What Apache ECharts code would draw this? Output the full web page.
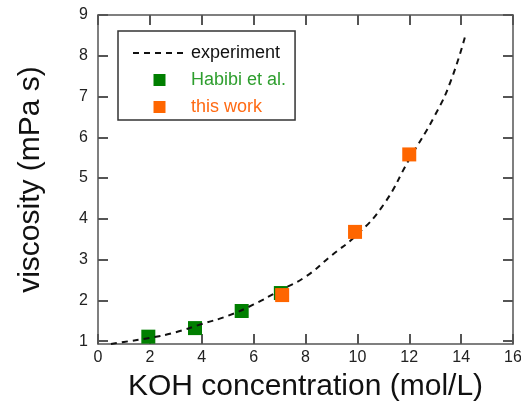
<!DOCTYPE html>
<html>
<head>
<meta charset="utf-8">
<script src="https://cdn.jsdelivr.net/npm/echarts@6/dist/echarts.min.js"></script>
<style>
  html, body { margin: 0; padding: 0; background: #fff; }
  #box { width: 521px; height: 401px; }
</style>
</head>
<body>
<div id="box"></div>
<script>
// experiment curve
var expX = [0.5, 1, 2, 3, 4, 5, 6, 7, 8, 9, 10, 11, 12, 13, 13.6, 14.15];
var expY = [0.93, 0.98, 1.08, 1.22, 1.42, 1.62, 1.9, 2.24, 2.58, 3.1, 3.62, 4.34, 5.46, 6.55, 7.38, 8.47];
// Habibi et al.
var habX = [1.94, 3.74, 5.54, 7.05];
var habY = [1.11, 1.32, 1.74, 2.18];
// this work
var ownX = [7.1, 9.91, 12.0];
var ownY = [2.13, 3.68, 5.58];
var yTicks = [1, 2, 3, 4, 5, 6, 7, 8, 9];

function pairs(xs, ys) {
    return xs.map(function (x, i) { return [x, ys[i]]; });
}

var dom = document.getElementById("box");
var myChart = echarts.init(dom, null, { renderer: 'canvas' });

var axisColor = '#555';
var font = 'Liberation Sans, Arial, Helvetica, sans-serif';
var square = 'path://M0,0L10,0L10,10L0,10Z';
var tick = { show: true, inside: true, length: 10, lineStyle: { color: axisColor, width: 2 } };
var yTick = { show: true, inside: true, length: 10, customValues: yTicks, lineStyle: { color: axisColor, width: 2 } };

option = {
    backgroundColor: '#fff',
    animation: false,
    textStyle: { fontFamily: font },
    grid: {
        left: 98,
        right: 8,
        top: 15,
        bottom: 57,
        containLabel: false,
        outerBoundsMode: 'none'
    },
    legend: {
        orient: 'vertical',
        left: 118,
        top: 31,
        padding: [13, 9, 4, 14],
        borderColor: '#333',
        borderWidth: 1.5,
        itemWidth: 53,
        itemHeight: 12,
        itemGap: 9,
        textStyle: { fontSize: 18, color: '#111', fontFamily: font },
        data: [
            { name: 'experiment', itemStyle: { opacity: 0 } },
            { name: 'Habibi et al.', icon: square, textStyle: { color: '#2e9e2e' } },
            { name: 'this work', icon: square, textStyle: { color: '#ff6a13' } }
        ]
    },
    xAxis: [{
        type: 'value',
        min: 0,
        max: 16,
        interval: 2,
        name: 'KOH concentration (mol/L)',
        nameLocation: 'middle',
        nameGap: 28,
        nameTextStyle: { fontSize: 30, color: '#111', fontFamily: font },
        axisLine: { show: true, onZero: false, lineStyle: { color: axisColor, width: 1.5 } },
        axisTick: tick,
        axisLabel: { fontSize: 16, color: '#222', margin: 6 },
        splitLine: { show: false }
    }, {
        type: 'value',
        position: 'top',
        min: 0,
        max: 16,
        interval: 2,
        axisLine: { show: true, onZero: false, lineStyle: { color: axisColor, width: 1.5 } },
        axisTick: tick,
        axisLabel: { show: false },
        splitLine: { show: false }
    }],
    yAxis: [{
        type: 'value',
        min: 0.93,
        max: 9,
        name: 'viscosity (mPa s)',
        nameLocation: 'middle',
        nameGap: 52,
        nameTextStyle: { fontSize: 30, color: '#111', fontFamily: font },
        axisLine: { show: true, onZero: false, lineStyle: { color: axisColor, width: 1.5 } },
        axisTick: yTick,
        axisLabel: { fontSize: 16, color: '#222', margin: 10, customValues: yTicks },
        splitLine: { show: false }
    }, {
        type: 'value',
        position: 'right',
        min: 0.93,
        max: 9,
        axisLine: { show: true, onZero: false, lineStyle: { color: axisColor, width: 1.5 } },
        axisTick: yTick,
        axisLabel: { show: false },
        splitLine: { show: false }
    }],
    series: [{
        name: 'experiment',
        type: 'line',
        smooth: true,
        symbol: 'none',
        data: pairs(expX, expY),
        lineStyle: { color: '#111', width: 2, type: [6, 5] },
        itemStyle: { color: '#111' },
        z: 3
    }, {
        name: 'Habibi et al.',
        type: 'scatter',
        symbol: 'rect',
        symbolSize: 14,
        data: pairs(habX, habY),
        itemStyle: { color: '#007f00', opacity: 1 },
        z: 2
    }, {
        name: 'this work',
        type: 'scatter',
        symbol: 'rect',
        symbolSize: 14,
        data: pairs(ownX, ownY),
        itemStyle: { color: '#ff6600', opacity: 1 },
        z: 4
    }]
};
if (option && typeof option === "object") {
    myChart.setOption(option, true);
}
</script>
</body>
</html>
